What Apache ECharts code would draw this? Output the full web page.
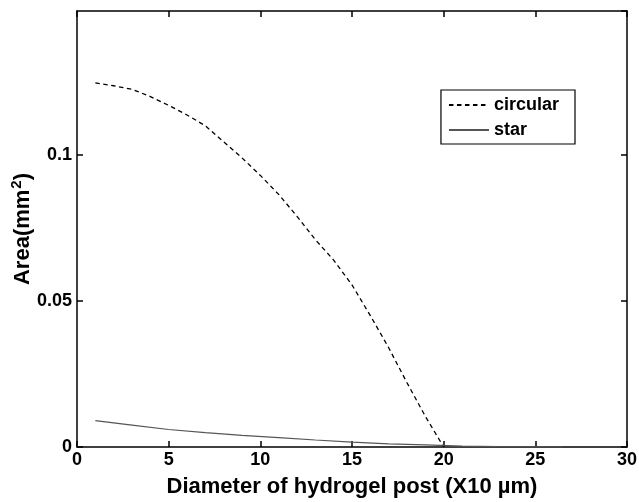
<!DOCTYPE html>
<html>
<head>
<meta charset="utf-8">
<script src="https://cdn.jsdelivr.net/npm/echarts@6/dist/echarts.min.js"></script>
<style>
  html, body { margin: 0; padding: 0; background: #fff; }
  #chart { width: 639px; height: 502px; }
</style>
</head>
<body>
<div id="chart"></div>
<script>
// values
var circularX = [1, 2, 3, 4, 5, 6, 7, 8, 9, 10, 11, 12, 13, 14, 15, 16, 17, 18, 19, 20];
var circularY = [0.1247, 0.1237, 0.1225, 0.1200, 0.1170, 0.1137, 0.1100, 0.1045, 0.0990, 0.0930,
                 0.0865, 0.0790, 0.0710, 0.0640, 0.0555, 0.0450, 0.0340, 0.0220, 0.0105, 0.0];
var starX = [1, 3, 5, 7, 9, 11, 13, 15, 17, 19, 21, 23, 25, 26.5];
var starY = [0.0090, 0.0075, 0.0060, 0.0049, 0.0040, 0.0032, 0.0024, 0.0017, 0.0011, 0.0007,
             0.0003, 0.0001, 0.00005, 0.0];

var xTicks = [0, 5, 10, 15, 20, 25, 30];

var fontFam = '"Liberation Sans", Arial, sans-serif';

var chartDom = document.getElementById('chart');
var myChart = echarts.init(chartDom);
var option;

function pairs(xs, ys) {
  return xs.map(function (x, i) { return [x, ys[i]]; });
}

var frameLine = { color: '#000', width: 1.5 };
var frameTick = { inside: true, length: 6, lineStyle: { color: '#000', width: 1.5 } };

option = {
  animation: false,
  backgroundColor: '#fff',
  grid: { left: 77, right: 12, top: 11, bottom: 55, containLabel: false, outerBoundsMode: 'none' },
  legend: {
    right: 64,
    top: 90,
    orient: 'vertical',
    data: ['circular', 'star'],
    itemStyle: { opacity: 0 },
    borderColor: '#000',
    borderWidth: 1.2,
    padding: [6, 16, 5, 7],
    itemGap: 7,
    itemWidth: 40,
    itemHeight: 16,
    textStyle: { fontFamily: fontFam, fontWeight: 'bold', fontSize: 18, color: '#000' }
  },
  xAxis: [
    {
      type: 'value', min: 0, max: 30, interval: 5,
      name: 'Diameter of hydrogel post (X10 µm)',
      nameLocation: 'middle', nameGap: 29, nameMoveOverlap: false,
      nameTextStyle: { fontFamily: fontFam, fontWeight: 'bold', fontSize: 22, color: '#000' },
      axisLine: { onZero: false, lineStyle: frameLine },
      axisTick: frameTick,
      axisLabel: {
        fontFamily: fontFam, fontWeight: 'bold', fontSize: 18, color: '#000', margin: 4,
        formatter: function (v) { return xTicks.indexOf(v) >= 0 ? String(v) : ''; }
      },
      splitLine: { show: false }
    },
    {
      type: 'value', min: 0, max: 30, interval: 5, position: 'top',
      axisLine: { show: true, onZero: false, lineStyle: frameLine },
      axisTick: { show: true, inside: true, length: 6, lineStyle: { color: '#000', width: 1.5 } },
      axisLabel: { show: false },
      splitLine: { show: false }
    }
  ],
  yAxis: [
    {
      type: 'value', min: 0, max: 0.1493, interval: 0.05,
      name: 'Area(mm{sup|2})',
      nameLocation: 'middle', nameGap: 41, nameRotate: 90, nameMoveOverlap: false,
      nameTextStyle: {
        fontFamily: fontFam, fontWeight: 'bold', fontSize: 22, color: '#000',
        rich: {
          sup: { fontFamily: fontFam, fontWeight: 'bold', fontSize: 15, color: '#000', verticalAlign: 'top', padding: [0, 0, 12, 1] }
        }
      },
      axisLine: { onZero: false, lineStyle: frameLine },
      axisTick: frameTick,
      axisLabel: {
        fontFamily: fontFam, fontWeight: 'bold', fontSize: 18, color: '#000', margin: 5,
        showMaxLabel: false,
        formatter: function (v) { return v === 0 ? '0' : String(+v.toFixed(2)); }
      },
      splitLine: { show: false }
    },
    {
      type: 'value', min: 0, max: 0.1493, interval: 0.05, position: 'right',
      axisLine: { show: true, onZero: false, lineStyle: frameLine },
      axisTick: { show: true, inside: true, length: 6, lineStyle: { color: '#000', width: 1.5 } },
      axisLabel: { show: false },
      splitLine: { show: false }
    }
  ],
  series: [
    {
      name: 'circular',
      type: 'line',
      data: pairs(circularX, circularY),
      showSymbol: false,
      symbol: 'none',
      color: '#000',
      lineStyle: { color: '#000', width: 1.3, type: [4.5, 3.5] }
    },
    {
      name: 'star',
      type: 'line',
      data: pairs(starX, starY),
      showSymbol: false,
      symbol: 'none',
      color: '#555',
      lineStyle: { color: '#555', width: 1.2 }
    }
  ]
};

option && myChart.setOption(option);
</script>
</body>
</html>
